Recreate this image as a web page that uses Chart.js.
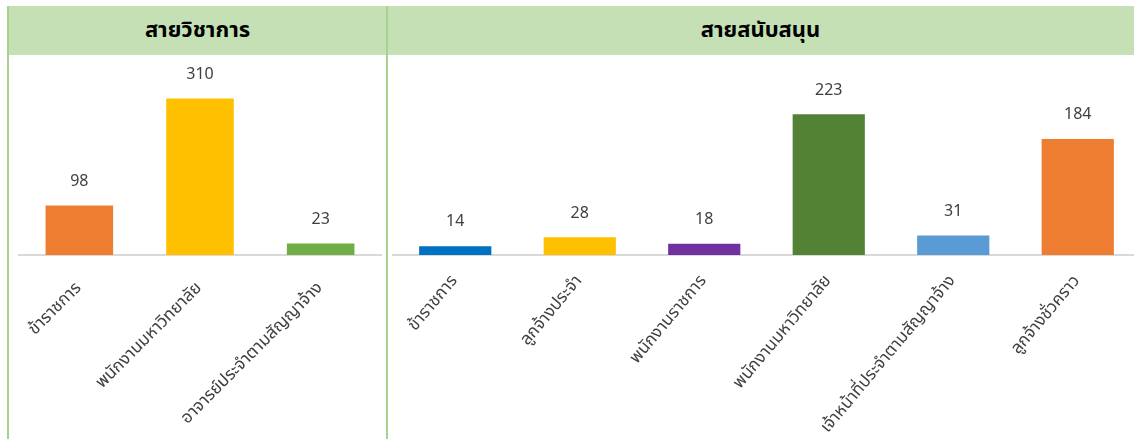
<!DOCTYPE html>
<html lang="th">

<head>
    <meta charset="UTF-8">
    <title>บุคลากร</title>
    <script src="https://cdn.jsdelivr.net/npm/chart.js"></script>
    <style>
        body { margin: 0; width: 1134px; height: 439px; overflow: hidden; position: relative; background: #fff; font-family: Tahoma, 'Noto Sans Thai', Loma, Garuda, sans-serif; }
        .head { position: absolute; top: 6px; height: 49px; background: #c5e0b4; font-weight: bold; font-size: 22px; color: #000; display: flex; align-items: center; justify-content: center; }
        .vline { position: absolute; top: 6px; bottom: 0; width: 2px; background: #a9d18e; }
        canvas { position: absolute; }
    </style>
</head>

<body>
    <div class="head" style="left:8px; width:379px;">สายวิชาการ</div>
    <div class="head" style="left:387px; width:747px;">สายสนับสนุน</div>
    <div class="vline" style="left:7px;"></div>
    <div class="vline" style="left:386px;"></div>
    <div style="position:absolute; left:9px; top:55px; width:377px; height:384px;"><canvas id="leftChart"></canvas></div>
    <div style="position:absolute; left:388px; top:55px; width:752px; height:384px;"><canvas id="rightChart"></canvas></div>

    <script>
        // สายวิชาการ
        const academicLabels = ['ข้าราชการ', 'พนักงานมหาวิทยาลัย', 'อาจารย์ประจำตามสัญญาจ้าง'];
        const academicValues = [98, 310, 23];
        const academicColors = ['#ed7d31', '#ffc000', '#70ad47'];

        // สายสนับสนุน
        const supportLabels = ['ข้าราชการ', 'ลูกจ้างประจำ', 'พนักงานราชการ', 'พนักงานมหาวิทยาลัย', 'เจ้าหน้าที่ประจำตามสัญญาจ้าง', 'ลูกจ้างชั่วคราว'];
        const supportValues = [14, 28, 18, 223, 31, 184];
        const supportColors = ['#0070c0', '#ffc000', '#7030a0', '#548235', '#5b9bd5', '#ed7d31'];

        const thaiFont = "Tahoma, 'Noto Sans Thai', Loma, Garuda, sans-serif";

        // draw the numbers above each bar
        const valueLabels = {
            id: 'valueLabels',
            afterDatasetsDraw(chart) {
                const ctx = chart.ctx;
                const ds = chart.data.datasets[0];
                ctx.save();
                ctx.font = '16px ' + thaiFont;
                ctx.fillStyle = '#404040';
                ctx.textAlign = 'center';
                ctx.textBaseline = 'middle';
                chart.getDatasetMeta(0).data.forEach((bar, i) => {
                    ctx.fillText(ds.data[i], bar.x, bar.y - 23);
                });
                ctx.restore();
            }
        };

        function makeChart(id, labels, values, colors, yMax, barPct, padLeft, padRight, rot, tickPad) {
            return new Chart(document.getElementById(id), {
                type: 'bar',
                data: {
                    labels: labels,
                    datasets: [{
                        data: values,
                        backgroundColor: colors,
                        barPercentage: barPct,
                        categoryPercentage: 1
                    }]
                },
                options: {
                    responsive: true,
                    maintainAspectRatio: false,
                    animation: false,
                    layout: { padding: { left: padLeft, right: padRight, top: 0, bottom: 0 } },
                    plugins: { legend: { display: false }, tooltip: { enabled: false } },
                    scales: {
                        x: {
                            grid: { display: false },
                            border: { display: true, color: '#d9d9d9', width: 2 },
                            ticks: {
                                autoSkip: false,
                                minRotation: rot,
                                maxRotation: rot,
                                padding: tickPad,
                                color: '#404040',
                                font: { family: thaiFont, size: 17 }
                            },
                            afterFit: s => { s.height = 184; }
                        },
                        y: {
                            display: false,
                            min: 0,
                            max: yMax
                        }
                    }
                },
                plugins: [valueLabels]
            });
        }

        makeChart('leftChart', academicLabels, academicValues, academicColors, 396, 0.56, 10, 5, 45, 16);
        makeChart('rightChart', supportLabels, supportValues, supportColors, 317, 0.58, 5, 0, 50, 9);
    </script>
</body>

</html>
